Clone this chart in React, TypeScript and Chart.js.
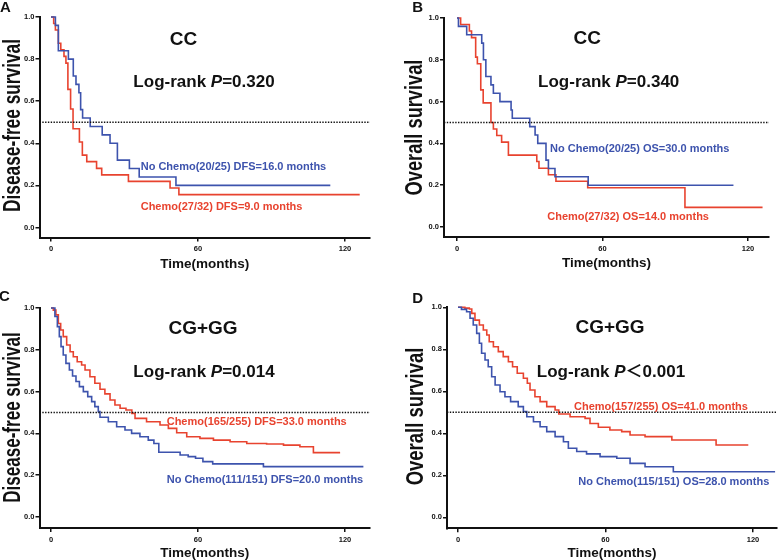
import React, { useEffect, useRef } from "react";
import { Chart, registerables } from "chart.js";

Chart.register(...registerables);

const FONT = "'Liberation Sans', Arial, 'Noto Sans CJK SC', sans-serif";
const BLUE = "#3d53ad";
const RED = "#e8432f";
const INK = "#111111";

// Axis ticks shared by all four panels
const X_TICKS = [0, 60, 120];
const Y_TICKS = [0, 0.2, 0.4, 0.6, 0.8, 1.0];

// Each curve: time of the step (months) and the survival fraction from that time on.
// A: CC genotype, disease-free survival
const A_NOCHEMO_T = [0, 1.8, 3.0, 7.1, 9.1, 10.2, 11.4, 12.1, 12.9, 16.0, 20.9, 24.1, 27.1, 32.0, 36.0, 51.0, 114];
const A_NOCHEMO_S = [1, 0.96, 0.84, 0.8, 0.72, 0.68, 0.64, 0.56, 0.52, 0.48, 0.44, 0.4, 0.32, 0.28, 0.24, 0.2, 0.2];
const A_CHEMO_T = [0, 1.1, 1.8, 3.0, 4.0, 5.3, 6.1, 6.9, 8.0, 9.0, 11.6, 12.8, 14.6, 18.6, 20.7, 31.6, 48.6, 52.2, 126];
const A_CHEMO_S = [1, 0.969, 0.938, 0.875, 0.844, 0.813, 0.781, 0.656, 0.563, 0.469, 0.406, 0.344, 0.313, 0.281, 0.25, 0.219, 0.188, 0.156, 0.156];

// B: CC genotype, overall survival
const B_NOCHEMO_T = [0, 0.6, 4.0, 10.2, 10.9, 11.9, 14.0, 15.0, 17.7, 22.3, 22.8, 30.0, 32.2, 33.3, 36.7, 37.7, 40.4, 54.1, 114];
const B_NOCHEMO_S = [1, 0.96, 0.92, 0.88, 0.8, 0.72, 0.68, 0.64, 0.6, 0.56, 0.52, 0.48, 0.44, 0.4, 0.32, 0.28, 0.24, 0.2, 0.2];
const B_CHEMO_T = [0, 1.5, 5.1, 6.0, 7.7, 8.4, 9.8, 10.8, 14.0, 15.0, 16.4, 18.4, 21.2, 32.9, 33.8, 37.7, 40.8, 53.9, 94.0, 126];
const B_CHEMO_S = [1, 0.969, 0.938, 0.906, 0.813, 0.781, 0.656, 0.594, 0.5, 0.469, 0.438, 0.406, 0.344, 0.313, 0.281, 0.25, 0.219, 0.188, 0.094, 0.094];

// C: CG+GG genotypes, disease-free survival
const C_CHEMO_T = [0, 0.95, 2.0, 3.0, 3.95, 5.0, 6.4, 7.8, 9.1, 10.7, 12.5, 13.9, 15.9, 17.9, 20.0, 22.0, 24.1, 26.1, 28.2, 30.6, 33.0, 34.3, 39.0, 44.5, 47.9, 51.3, 55.4, 60.8, 66.3, 73.1, 79.9, 88.0, 94.9, 101.6, 107.1, 118];
const C_CHEMO_S = [1, 0.99, 0.967, 0.926, 0.895, 0.863, 0.823, 0.791, 0.767, 0.743, 0.727, 0.703, 0.671, 0.64, 0.611, 0.589, 0.56, 0.536, 0.52, 0.512, 0.496, 0.472, 0.456, 0.44, 0.424, 0.403, 0.384, 0.376, 0.368, 0.36, 0.352, 0.349, 0.344, 0.336, 0.308, 0.308];
const C_NOCHEMO_T = [0, 1.6, 2.6, 3.4, 4.1, 5.0, 6.1, 7.5, 8.8, 10.2, 11.6, 13.2, 15.0, 16.6, 17.9, 19.3, 20.0, 23.4, 26.8, 30.2, 32.9, 36.3, 39.7, 42.0, 44.0, 52.7, 56.0, 59.0, 62.0, 66.0, 86.7, 127.5];
const C_NOCHEMO_S = [1, 0.959, 0.911, 0.863, 0.815, 0.775, 0.735, 0.703, 0.675, 0.648, 0.624, 0.6, 0.576, 0.552, 0.528, 0.504, 0.477, 0.456, 0.432, 0.416, 0.4, 0.384, 0.368, 0.352, 0.31, 0.297, 0.289, 0.281, 0.265, 0.254, 0.241, 0.241];

// D: CG+GG genotypes, overall survival
const D_CHEMO_T = [0, 2.8, 4.6, 5.6, 6.9, 8.7, 10.3, 11.7, 12.7, 14.4, 16.4, 18.4, 20.5, 22.2, 24.1, 26.6, 28.2, 29.3, 31.3, 33.4, 36.1, 39.5, 41.0, 45.6, 51.7, 53.7, 57.1, 61.8, 66.6, 70.0, 76.1, 87.0, 105.0, 118.1];
const D_CHEMO_S = [1, 0.996, 0.992, 0.971, 0.939, 0.916, 0.892, 0.868, 0.836, 0.812, 0.789, 0.765, 0.741, 0.717, 0.686, 0.662, 0.638, 0.606, 0.574, 0.551, 0.527, 0.511, 0.492, 0.479, 0.471, 0.447, 0.429, 0.416, 0.408, 0.392, 0.384, 0.368, 0.344, 0.344];
const D_NOCHEMO_T = [0, 1.4, 3.5, 4.9, 6.2, 7.6, 8.7, 9.6, 11.0, 12.3, 13.7, 15.1, 17.1, 19.1, 21.4, 24.5, 26.6, 28.0, 30.7, 33.4, 36.1, 39.5, 42.9, 44.9, 48.3, 52.3, 57.8, 64.6, 70.0, 76.1, 87.6, 129];
const D_NOCHEMO_S = [1, 0.99, 0.979, 0.948, 0.916, 0.876, 0.829, 0.781, 0.749, 0.717, 0.669, 0.63, 0.598, 0.574, 0.551, 0.527, 0.503, 0.479, 0.455, 0.431, 0.408, 0.384, 0.36, 0.329, 0.313, 0.302, 0.289, 0.281, 0.257, 0.241, 0.217, 0.217];

type Seg = { t: string; italic?: boolean };
type Curve = { time: number[]; surv: number[]; color: string; label: string; lx: number; ly: number };
type Spec = {
  letter: string; letterX: number; letterY: number;
  left: number; right: number; top: number; bottom: number;
  xMin: number; xMax: number; yMin: number;
  yTitle: string; yTitleX: number; yTitleY: number; yTitleSquash: number;
  xTitleY: number;
  group: string; groupX: number; groupY: number;
  logRank: Seg[]; pX: number; pY: number;
  curves: Curve[];
};

const W = 389;
const H = 280;

const PANELS: { x: number; y: number; spec: Spec }[] = [
  {
    x: 0, y: 0,
    spec: {
      letter: "A", letterX: 0, letterY: 12.3,
      left: 39.5, right: 370, top: 17, bottom: 237.5,
      xMin: -4.69, xMax: 130.2, yMin: -0.0475,
      yTitle: "Disease-free survival", yTitleX: 19.5, yTitleY: 125.5, yTitleSquash: 0.72,
      xTitleY: 267.5,
      group: "CC", groupX: 183.5, groupY: 45,
      logRank: [{ t: "Log-rank " }, { t: "P", italic: true }, { t: "=0.320" }], pX: 204, pY: 87,
      curves: [
        { time: A_NOCHEMO_T, surv: A_NOCHEMO_S, color: BLUE, label: "No Chemo(20/25) DFS=16.0 months", lx: 140.7, ly: 169.5 },
        { time: A_CHEMO_T, surv: A_CHEMO_S, color: RED, label: "Chemo(27/32) DFS=9.0 months", lx: 140.7, ly: 209.5 },
      ],
    },
  },
  {
    x: 389, y: 0,
    spec: {
      letter: "B", letterX: 23.3, letterY: 12.3,
      left: 55, right: 380, top: 18, bottom: 237,
      xMin: -5.36, xMax: 128.66, yMin: -0.048,
      yTitle: "Overall survival", yTitleX: 33.3, yTitleY: 127.5, yTitleSquash: 0.76,
      xTitleY: 266.5,
      group: "CC", groupX: 198.3, groupY: 43.5,
      logRank: [{ t: "Log-rank " }, { t: "P", italic: true }, { t: "=0.340" }], pX: 219.7, pY: 87,
      curves: [
        { time: B_NOCHEMO_T, surv: B_NOCHEMO_S, color: BLUE, label: "No Chemo(20/25) OS=30.0 months", lx: 161, ly: 151.5 },
        { time: B_CHEMO_T, surv: B_CHEMO_S, color: RED, label: "Chemo(27/32) OS=14.0 months", lx: 158.3, ly: 219.5 },
      ],
    },
  },
  {
    x: 0, y: 280,
    spec: {
      letter: "C", letterX: -1, letterY: 20.7,
      left: 39.5, right: 370, top: 28, bottom: 248,
      xMin: -4.69, xMax: 130.2, yMin: -0.0526,
      yTitle: "Disease-free survival", yTitleX: 20, yTitleY: 137.5, yTitleSquash: 0.71,
      xTitleY: 277,
      group: "CG+GG", groupX: 203, groupY: 54,
      logRank: [{ t: "Log-rank " }, { t: "P", italic: true }, { t: "=0.014" }], pX: 204, pY: 97.3,
      curves: [
        { time: C_NOCHEMO_T, surv: C_NOCHEMO_S, color: BLUE, label: "No Chemo(111/151) DFS=20.0 months", lx: 166.7, ly: 203.3 },
        { time: C_CHEMO_T, surv: C_CHEMO_S, color: RED, label: "Chemo(165/255) DFS=33.0 months", lx: 166.7, ly: 145 },
      ],
    },
  },
  {
    x: 389, y: 280,
    spec: {
      letter: "D", letterX: 23.3, letterY: 22.7,
      left: 58, right: 388, top: 27.3, bottom: 248.3,
      xMin: -4.475, xMax: 129.78, yMin: -0.0524,
      yTitle: "Overall survival", yTitleX: 33.5, yTitleY: 136.5, yTitleSquash: 0.77,
      xTitleY: 276.5,
      group: "CG+GG", groupX: 221, groupY: 53.3,
      logRank: [{ t: "Log-rank " }, { t: "P", italic: true }, { t: "\uFF1C0.001" }], pX: 222, pY: 96.7,
      curves: [
        { time: D_NOCHEMO_T, surv: D_NOCHEMO_S, color: BLUE, label: "No Chemo(115/151) OS=28.0 months", lx: 189.3, ly: 205 },
        { time: D_CHEMO_T, surv: D_CHEMO_S, color: RED, label: "Chemo(157/255) OS=41.0 months", lx: 185, ly: 129.7 },
      ],
    },
  },
];

function fontOf(size: number, italic = false) {
  return `${italic ? "italic " : ""}bold ${size}px ${FONT}`;
}

function drawSegments(ctx: CanvasRenderingContext2D, segs: Seg[], x: number, y: number, size: number, color: string, align: "left" | "center") {
  let total = 0;
  const widths = segs.map((s) => {
    ctx.font = fontOf(size, s.italic);
    const w = ctx.measureText(s.t).width;
    total += w;
    return w;
  });
  let cx = align === "center" ? x - total / 2 : x;
  ctx.fillStyle = color;
  ctx.textAlign = "left";
  ctx.textBaseline = "alphabetic";
  segs.forEach((s, i) => {
    ctx.font = fontOf(size, s.italic);
    ctx.fillText(s.t, cx, y);
    cx += widths[i];
  });
}

function drawPanelText(ctx: CanvasRenderingContext2D, spec: Spec) {
  ctx.save();
  drawSegments(ctx, [{ t: spec.letter }], spec.letterX, spec.letterY, 15, INK, "left");
  drawSegments(ctx, [{ t: spec.group }], spec.groupX, spec.groupY, 19, INK, "center");
  drawSegments(ctx, spec.logRank, spec.pX, spec.pY, 17, INK, "center");
  spec.curves.forEach((c) => drawSegments(ctx, [{ t: c.label }], c.lx, c.ly, 11, c.color, "left"));
  drawSegments(ctx, [{ t: "Time(months)" }], (spec.left + spec.right) / 2, spec.xTitleY, 13.5, INK, "center");

  // rotated y-axis title, narrowed along its length
  ctx.save();
  ctx.translate(spec.yTitleX, spec.yTitleY);
  ctx.rotate(-Math.PI / 2);
  ctx.scale(spec.yTitleSquash, 1);
  drawSegments(ctx, [{ t: spec.yTitle }], 0, 0, 24, INK, "center");
  ctx.restore();
  ctx.restore();
}

function Panel({ spec }: { spec: Spec }) {
  const ref = useRef<HTMLCanvasElement | null>(null);

  useEffect(() => {
    const canvas = ref.current;
    if (!canvas) return;
    const tickFont = { family: FONT, size: 7.5, weight: "bold" as const };

    const datasets: any[] = [
      {
        // median reference line at 0.5
        data: [{ x: spec.xMin, y: 0.5 }, { x: spec.xMax, y: 0.5 }],
        borderColor: INK,
        borderWidth: 1.6,
        borderDash: [1.4, 1.4],
        pointRadius: 0,
        fill: false,
        clip: false,
      },
      ...spec.curves.map((c) => ({
        data: c.time.map((t, i) => ({ x: t, y: c.surv[i] })),
        stepped: "before",
        borderColor: c.color,
        borderWidth: 1.6,
        pointRadius: 0,
        fill: false,
        clip: false,
      })),
    ];

    const textPlugin = {
      id: "panelText",
      afterDraw(chart: Chart) {
        drawPanelText(chart.ctx, spec);
      },
    };

    const chart = new Chart(canvas, {
      type: "line",
      data: { datasets },
      options: {
        responsive: false,
        animation: false,
        parsing: false as any,
        layout: { padding: { left: 0, top: spec.top, right: W - spec.right, bottom: 0 } },
        plugins: { legend: { display: false }, tooltip: { enabled: false } },
        scales: {
          x: {
            type: "linear",
            min: spec.xMin,
            max: spec.xMax,
            afterBuildTicks: (s: any) => {
              s.ticks = X_TICKS.map((v) => ({ value: v }));
            },
            afterFit: (s: any) => {
              s.height = H - spec.bottom;
            },
            ticks: {
              color: INK,
              font: tickFont,
              padding: 3,
              autoSkip: false,
              maxRotation: 0,
              callback: (v: any) => String(v),
            },
            grid: { display: true, drawOnChartArea: false, drawTicks: true, tickLength: 4, color: INK, lineWidth: 1.5 },
            border: { display: true, color: INK, width: 2 },
          },
          y: {
            type: "linear",
            min: spec.yMin,
            max: 1,
            afterBuildTicks: (s: any) => {
              s.ticks = Y_TICKS.map((v) => ({ value: v }));
            },
            afterFit: (s: any) => {
              s.width = spec.left;
            },
            ticks: {
              color: INK,
              font: tickFont,
              padding: 1,
              autoSkip: false,
              callback: (v: any) => Number(v).toFixed(1),
            },
            grid: { display: true, drawOnChartArea: false, drawTicks: true, tickLength: 4, color: INK, lineWidth: 1.5 },
            border: { display: true, color: INK, width: 2 },
          },
        },
      } as any,
      plugins: [textPlugin as any],
    });

    return () => chart.destroy();
  }, [spec]);

  return <canvas ref={ref} width={W} height={H} style={{ display: "block", width: W, height: H }} />;
}

export default function App() {
  return (
    <div style={{ position: "absolute", left: 0, top: 0, width: 778, height: 560, background: "#ffffff", overflow: "hidden" }}>
      {PANELS.map((p) => (
        <div key={p.spec.letter} style={{ position: "absolute", left: p.x, top: p.y, width: W, height: H }}>
          <Panel spec={p.spec} />
        </div>
      ))}
    </div>
  );
}
